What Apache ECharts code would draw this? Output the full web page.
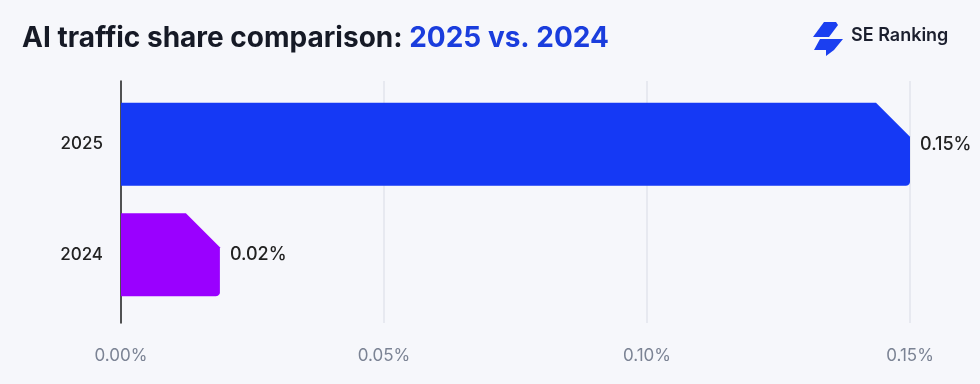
<!DOCTYPE html>
<html>
<head>
<meta charset="utf-8">
<script src="https://cdn.jsdelivr.net/npm/echarts@6/dist/echarts.min.js"></script>
<style>
html,body{margin:0;padding:0;background:#f6f7fb;}
#chart{width:980px;height:384px;}
</style>
</head>
<body>
<div id="chart"></div>
<script>
const categories = ['2024', '2025'];
const shareValues = [0.0188, 0.15];
const barColors = ['#9a00ff', '#1539f5'];
const xTicks = [0, 0.05, 0.10, 0.15];

const chart = echarts.init(document.getElementById('chart'));
const FONT = 'Inter, "Noto Sans", sans-serif';

function renderBar(params, api) {
  const idx = api.value(1);
  const val = api.value(0);
  const start = api.coord([0, idx]);
  const end = api.coord([val, idx]);
  const bandH = api.size([0, 1])[1];
  const h = bandH * 0.75;
  const x0 = start[0], xe = end[0];
  const yt = end[1] - h / 2, yb = end[1] + h / 2;
  const c = Math.min(34, xe - x0);
  const r = 4;
  const pts = [[x0, yt], [xe - c, yt], [xe, yt + c], [xe, yb - r]];
  for (let i = 1; i <= 6; i++) {
    const a = (Math.PI / 2) * i / 6;
    pts.push([xe - r + r * Math.cos(a), yb - r + r * Math.sin(a)]);
  }
  pts.push([x0, yb]);
  return {
    type: 'group',
    children: [
      { type: 'polygon', shape: { points: pts }, style: { fill: barColors[idx] } },
      {
        type: 'text',
        style: {
          text: (val).toFixed(2) + '%',
          x: xe + 10, y: end[1],
          verticalAlign: 'middle', align: 'left',
          fill: '#222', fontSize: 18, fontWeight: 500, fontFamily: FONT
        }
      }
    ]
  };
}

const option = {
  backgroundColor: '#f6f7fb',
  title: {
    left: 17, top: 20,
    text: '{a|AI traffic share comparison: }{b|2025 vs. 2024}',
    textStyle: {
      rich: {
        a: { fontSize: 28, fontWeight: 700, color: '#161a26', fontFamily: FONT },
        b: { fontSize: 28, fontWeight: 700, color: '#1a3ddd', fontFamily: FONT }
      }
    }
  },
  graphic: [
    { type: 'polygon', shape: { points: [[824,22],[836,22],[838,25],[829,37],[813,37]] }, style: { fill: '#1b3ff0' } },
    { type: 'polygon', shape: { points: [[820,39],[843,39],[834,50],[826,56],[826,50],[814,50]] }, style: { fill: '#1b3ff0' } },
    { type: 'text', left: 851, top: 27, style: { text: 'SE Ranking', fontSize: 18, fontWeight: 600, fill: '#1b1f2e', fontFamily: FONT } }
  ],
  grid: [
    { left: 121, right: 70, top: 89, height: 221 },
    { left: 121, right: 70, top: 81, height: 242 }
  ],
  xAxis: [
    { gridIndex: 0, type: 'value', min: 0, max: 0.15, show: false },
    {
      gridIndex: 1, type: 'value', min: 0, max: 0.15, interval: 0.05,
      axisLine: { show: false }, axisTick: { show: false },
      splitLine: { show: true, lineStyle: { color: '#e2e5ec', width: 1.5 } },
      axisLabel: {
        margin: 24, color: '#7b8394', fontSize: 17, fontFamily: FONT,
        formatter: v => v.toFixed(2) + '%'
      }
    }
  ],
  yAxis: [
    {
      gridIndex: 0, type: 'category', data: categories,
      axisLine: { show: false }, axisTick: { show: false },
      axisLabel: { margin: 18, color: '#222', fontSize: 17, fontWeight: 500, fontFamily: FONT }
    },
    {
      gridIndex: 1, type: 'category', data: categories,
      axisLine: { show: true, lineStyle: { color: '#1e1e1e', width: 1.5 } },
      axisTick: { show: false }, axisLabel: { show: false }, splitLine: { show: false }
    }
  ],
  series: [
    {
      type: 'custom',
      xAxisIndex: 0, yAxisIndex: 0,
      renderItem: renderBar,
      encode: { x: 0, y: 1 },
      data: shareValues.map((v, i) => [v, i]),
      z: 5
    }
  ]
};
chart.setOption(option);
</script>
</body>
</html>
